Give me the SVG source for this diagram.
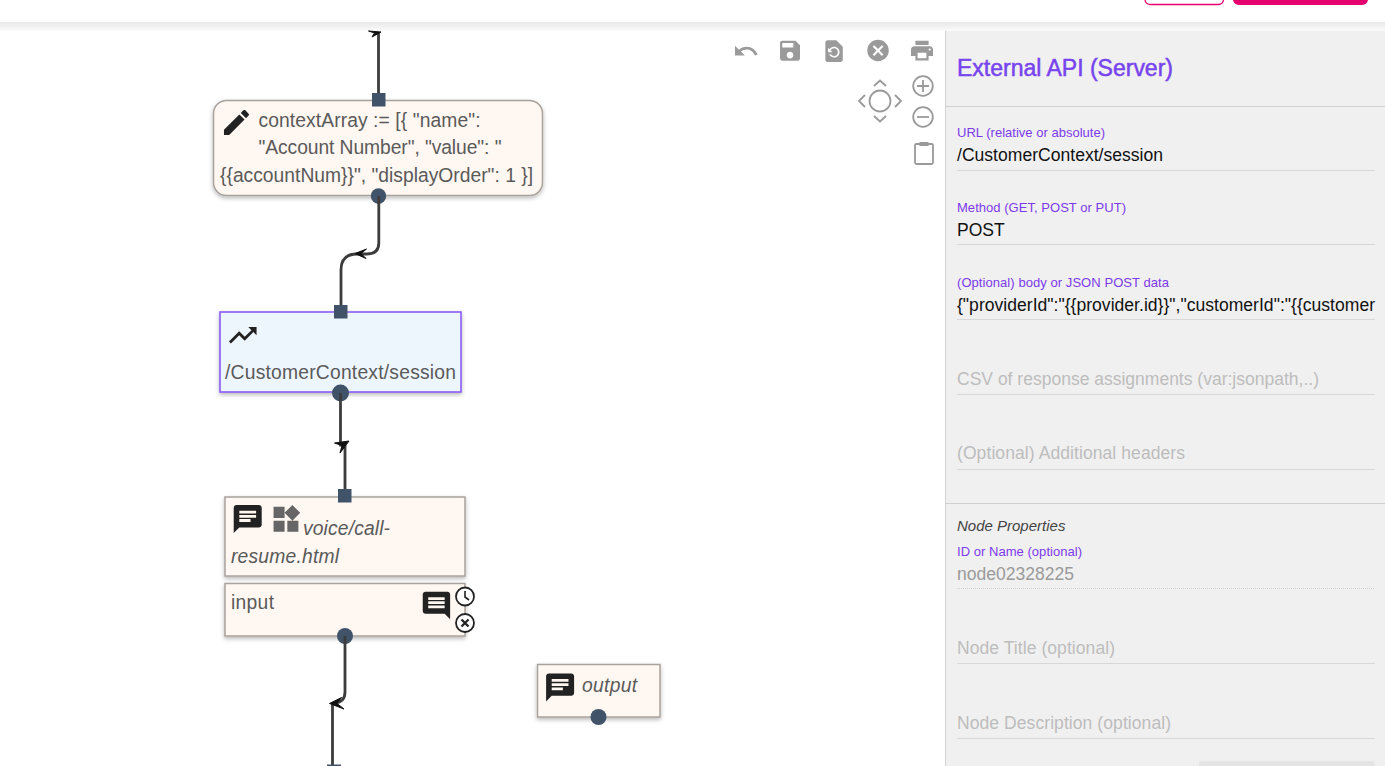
<svg xmlns="http://www.w3.org/2000/svg" width="1385" height="766" viewBox="0 0 1385 766">
<style>
text{font-family:"Liberation Sans",Arial,sans-serif}
.n{fill:#fff7f1;stroke:#a8a29c;stroke-width:1.5;filter:url(#sh)}
.t{font-size:19.300px;fill:#5a5a5a}
.i{font-style:italic}
.w{fill:none;stroke:#3c3c3c;stroke-width:2.800}
.sq{fill:#415369}
.ci{fill:#415369}
.ah{fill:#111;stroke:#111;stroke-width:1;stroke-linejoin:round}
.dk{fill:#222}
.g{fill:#9a9a9a}
.gs{fill:none;stroke:#9a9a9a;stroke-width:1.8}
.lab{font-size:13px;fill:#7c3aed}
.val{font-size:17.550px;fill:#111}
.ph{font-size:17.500px;fill:#bdbdbd}
.ln{stroke:#d8d8d8;stroke-width:1}
.bg{stroke:#cfcfcf;stroke-width:1}
</style>
<defs>
<filter id="sh" x="-5%" y="-10%" width="110%" height="125%"><feDropShadow dx="0" dy="2" stdDeviation="2" flood-color="#000" flood-opacity=".28"/></filter>
<linearGradient id="top" x1="0" y1="0" x2="0" y2="1"><stop offset="0" stop-color="#e8e8e8"/><stop offset="1" stop-color="#fbfbfb"/></linearGradient>
<path id="msg" d="M20 2H4c-1.100 0-1.990.9-1.990 2L2 22l4-4h14c1.100 0 2-.9 2-2V4c0-1.100-.9-2-2-2zM6 9h12v2H6V9zm8 5H6v-2h8v2zm4-6H6V6h12v2z"/>
<path id="cmt" d="M21.990 4c0-1.100-.89-2-1.990-2H4c-1.100 0-2 .9-2 2v12c0 1.100.9 2 2 2h14l4 4-.01-18zM18 14H6v-2h12v2zm0-3H6V9h12v2zm0-3H6V6h12v2z"/>
</defs>
<rect width="1385" height="766" fill="#fff"/>
<rect x="945" y="31" width="440" height="735" fill="#f0f0f0"/>
<line x1="945.500" y1="31" x2="945.500" y2="766" stroke="#d2d2d2"/>
<rect y="22" width="1385" height="9" fill="url(#top)"/>
<g id="top-buttons">
<path d="M1145 -4V-1Q1145 4.500 1151 4.500H1218Q1223.500 4.500 1223.500 -1V-4" fill="none" stroke="#e6006f" stroke-width="1.300"/>
<path d="M1233 -2H1368V-1Q1368 5 1361 5H1240Q1233 5 1233 -1Z" fill="#e6006f"/>
</g>
<g id="connectors">
<path class="w" d="M378.500 100V33"/>
<path class="ah" d="M368.500 31L381 32L372 37L374.500 33Z"/>
<path class="w" d="M378.800 196V243Q378.800 254 367 254H357Q341 254 341 270V312"/>
<path class="ah" d="M355 253.500L366.500 249L361 253.500L366 258.500Z"/>
<path class="w" d="M340.500 393V445H345V496"/>
<path class="ah" d="M334.500 443L349 441L340 453L342 445.500Z"/>
<path class="w" d="M345 636V692Q345 702 335 703L332.500 704V766"/>
<path class="ah" d="M329.500 703.500L341.500 697.500L337 703.500L344 709Z"/>
</g>
<g id="node-context">
<rect class="n" x="213.500" y="100.500" width="329" height="95" rx="13"/>
<path class="dk" transform="translate(219.800 105.800) scale(1.390)" d="M3 17.250V21h3.750L17.810 9.940l-3.750-3.750L3 17.250zM20.710 7.040c.39-.39.39-1.020 0-1.410l-2.340-2.340c-.39-.39-1.020-.39-1.410 0l-1.830 1.830 3.750 3.750 1.830-1.830z"/>
<text class="t" x="258.500" y="126.500" textLength="222">contextArray := [{ "name":</text>
<text class="t" x="258.500" y="153.500" textLength="243">"Account Number", "value": "</text>
<text class="t" x="220" y="181.500" textLength="313">{{accountNum}}", "displayOrder": 1 }]</text>
<rect class="sq" x="372" y="93" width="13.500" height="13.500"/>
<circle class="ci" cx="378.500" cy="196" r="7.700"/>
<path class="w" d="M378.800 196V204"/>
</g>
<g id="node-api">
<rect x="220" y="312" width="241" height="80" fill="#edf5fd" stroke="#8b5cf6" stroke-width="1.600" filter="url(#sh)"/>
<path class="dk" transform="translate(226.200 318.700) scale(1.380)" d="M16 6l2.290 2.290-4.880 4.880-4-4L2 16.590 3.410 18l6-6 4 4 6.300-6.290L22 12V6z"/>
<text class="t" x="225" y="378.500" textLength="231">/CustomerContext/session</text>
<rect class="sq" x="334" y="305" width="13.500" height="13.500"/>
<circle class="ci" cx="340.500" cy="393" r="8.500"/>
<path class="w" d="M340.500 393V401"/>
</g>
<g id="node-voice">
<rect class="n" x="225" y="497" width="240" height="79"/>
<use href="#msg" class="dk" transform="translate(230.900 502.300) scale(1.400)"/>
<path fill="#666" transform="translate(269.400 502.700) scale(1.380)" d="M13 13v8h8v-8h-8zM3 21h8v-8H3v8zM3 3v8h8V3H3zm13.660-1.310L11 7.340 16.660 13l5.660-5.660-5.660-5.650z"/>
<text class="t i" x="303" y="534.500" textLength="87">voice/call-</text>
<text class="t i" x="231" y="562.500" textLength="108">resume.html</text>
<rect class="sq" x="338" y="489" width="13.500" height="13.500"/>
</g>
<g id="node-input">
<rect class="n" x="225" y="583.500" width="240" height="52.500"/>
<text class="t" x="231" y="608.500" textLength="43">input</text>
<use href="#cmt" class="dk" transform="translate(420 589) scale(1.370)"/>
<circle cx="465" cy="596.500" r="9" fill="#fff" stroke="#222" stroke-width="1.800"/>
<path d="M465 591V597L469 600" fill="none" stroke="#222" stroke-width="1.600"/>
<circle cx="465" cy="623" r="9" fill="#fff" stroke="#222" stroke-width="1.800"/>
<path d="M461.500 619.500L468.500 626.500M468.500 619.500L461.500 626.500" stroke="#222" stroke-width="2.200"/>
<circle class="ci" cx="345" cy="636" r="8"/>
<path class="w" d="M345 636V644"/>
</g>
<g id="node-end">
<rect x="327" y="764.500" width="14" height="3" class="sq"/>
</g>
<g id="node-output">
<rect class="n" x="537.500" y="664.500" width="122.500" height="52.500"/>
<use href="#msg" class="dk" transform="translate(543.300 670.600) scale(1.400)"/>
<text class="t i" x="582" y="691.500" textLength="55">output</text>
<circle class="ci" cx="598.500" cy="717" r="8"/>
</g>
<g id="toolbar">
<path class="g" transform="translate(732.800 38) scale(1.100)" d="M12.500 8c-2.650 0-5.050.99-6.900 2.600L2 7v9h9l-3.620-3.620c1.390-1.160 3.160-1.880 5.120-1.880 3.540 0 6.550 2.310 7.600 5.500l2.370-.78C21.080 11.030 17.150 8 12.500 8z"/>
<path class="g" transform="translate(776.700 37.400) scale(1.110)" d="M17 3H5c-1.110 0-2 .9-2 2v14c0 1.100.89 2 2 2h14c1.100 0 2-.9 2-2V7l-4-4zm-5 16c-1.660 0-3-1.340-3-3s1.340-3 3-3 3 1.340 3 3-1.340 3-3 3zm3-10H5V5h10v4z"/>
<path class="g" transform="translate(821 38) scale(1.090)" d="M14 2H6c-1.100 0-1.990.9-1.990 2L4 20c0 1.100.89 2 1.990 2H18c1.100 0 2-.9 2-2V8l-6-6zm-2 16c-2.050 0-3.810-1.240-4.580-3h1.710c.63.9 1.680 1.500 2.870 1.500 1.930 0 3.500-1.570 3.500-3.500S13.930 9.500 12 9.500c-1.350 0-2.520.78-3.100 1.900l1.600 1.600h-4V9l1.300 1.300C8.690 8.920 10.230 8 12 8c2.760 0 5 2.240 5 5s-2.240 5-5 5z"/>
<path class="g" transform="translate(865.200 37.700) scale(1.070)" d="M12 2C6.470 2 2 6.470 2 12s4.470 10 10 10 10-4.470 10-10S17.530 2 12 2zm5 13.590L15.590 17 12 13.410 8.410 17 7 15.590 10.590 12 7 8.410 8.410 7 12 10.590 15.590 7 17 8.410 13.410 12 17 15.590z"/>
<path class="g" transform="translate(908.800 37.400) scale(1.100)" d="M19 8H5c-1.660 0-3 1.340-3 3v6h4v4h12v-4h4v-6c0-1.660-1.340-3-3-3zm-3 11H8v-5h8v5zm3-7c-.55 0-1-.45-1-1s.45-1 1-1 1 .45 1 1-.45 1-1 1zm-1-9H6v4h12V3z"/>
<circle class="gs" cx="880" cy="101" r="10.500"/>
<path class="gs" d="M874 86L880 80.500L886 86M874 116L880 121.500L886 116M865 95L859 101L865 107M895 95L901 101L895 107"/>
<circle class="gs" cx="923" cy="86" r="9.800"/><path class="gs" d="M917 86H929M923 80V92"/>
<circle class="gs" cx="923" cy="117" r="9.800"/><path class="gs" d="M917 117H929"/>
<rect class="gs" x="915" y="144" width="18" height="20" rx="1.500"/>
<rect x="919.500" y="142" width="9" height="4" fill="#9a9a9a"/>
</g>
<g id="panel">
<text x="957" y="75.500" font-size="23" fill="#7744ee" stroke="#7744ee" stroke-width=".5" textLength="216">External API (Server)</text>
<line class="bg" x1="945" y1="106.500" x2="1385" y2="106.500"/>
<text class="lab" x="957" y="137" textLength="148">URL (relative or absolute)</text>
<text class="val" x="957" y="161" textLength="206">/CustomerContext/session</text>
<line class="ln" x1="957" y1="170.500" x2="1375" y2="170.500"/>
<text class="lab" x="957" y="212" textLength="169">Method (GET, POST or PUT)</text>
<text class="val" x="957" y="236">POST</text>
<line class="ln" x1="957" y1="244.500" x2="1375" y2="244.500"/>
<text class="lab" x="957" y="287" textLength="212">(Optional) body or JSON POST data</text>
<text class="val" x="957" y="311" textLength="418">{"providerId":"{{provider.id}}","customerId":"{{customer</text>
<line class="ln" x1="957" y1="319.500" x2="1375" y2="319.500"/>
<text class="ph" x="957" y="385" textLength="362">CSV of response assignments (var:jsonpath,..)</text>
<line class="ln" x1="957" y1="394.500" x2="1375" y2="394.500"/>
<text class="ph" x="957" y="459" textLength="228">(Optional) Additional headers</text>
<line class="ln" x1="957" y1="469.500" x2="1375" y2="469.500"/>
<line class="bg" x1="945" y1="503.500" x2="1385" y2="503.500"/>
<text x="957" y="531" font-size="15" font-style="italic" fill="#444">Node Properties</text>
<text class="lab" x="957" y="556" textLength="125">ID or Name (optional)</text>
<text x="957" y="580" font-size="17.550" fill="#9a9a9a" textLength="117">node02328225</text>
<line x1="957" y1="588.500" x2="1375" y2="588.500" stroke="#d0d0d0" stroke-dasharray="1 1"/>
<text class="ph" x="957" y="654" textLength="158">Node Title (optional)</text>
<line class="ln" x1="957" y1="663.500" x2="1375" y2="663.500"/>
<text class="ph" x="957" y="729" textLength="214">Node Description (optional)</text>
<line class="ln" x1="957" y1="738.500" x2="1375" y2="738.500"/>
<path d="M1199 766V764Q1199 761 1202 761H1372Q1375 761 1375 764V766Z" fill="#e4e4e4"/>
</g>
</svg>
